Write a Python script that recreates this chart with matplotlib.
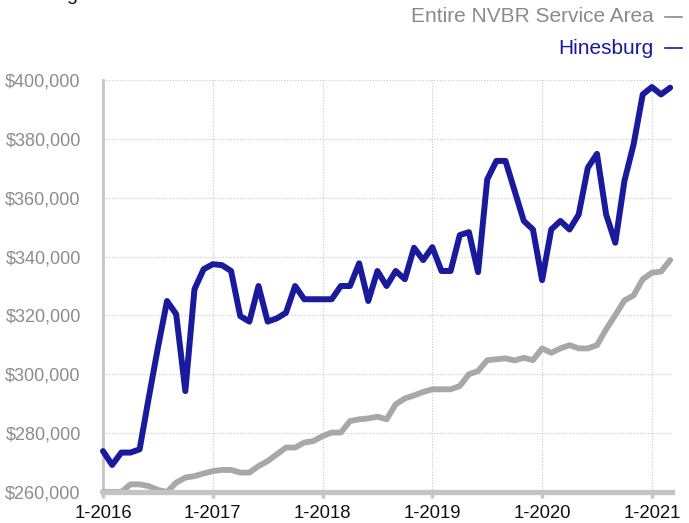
#!/usr/bin/env python3

import matplotlib
matplotlib.use('Agg')
import matplotlib.pyplot as plt
from matplotlib.ticker import FuncFormatter

plt.rcParams['font.family'] = ['Liberation Sans', 'DejaVu Sans']

# -- Monthly values, 1-2016 through 3-2021
months = list(range(63))

hinesburg = [
    273.9, 269.2, 273.4, 273.4, 274.5, 292.0, 309.0, 324.9, 320.4, 294.3,
    328.9, 335.7, 337.4, 337.1, 335.1, 319.8, 317.9, 330.0, 317.9, 319.0,
    320.9, 330.0, 325.5, 325.5, 325.5, 325.5, 330.0, 330.0, 337.7, 324.9,
    335.1, 330.0, 335.1, 332.3, 343.0, 338.8, 343.2, 335.1, 335.1, 347.3,
    348.3, 334.7, 366.2, 372.5, 372.5, 362.3, 352.1, 349.2, 332.0, 349.2,
    352.1, 349.2, 354.3, 370.2, 374.9, 354.3, 344.7, 365.7, 378.1, 395.1,
    397.6, 395.1, 397.4,
]

nvbr = [
    260.0, 260.0, 260.0, 262.6, 262.6, 262.0, 260.7, 260.0, 263.2, 264.9,
    265.4, 266.3, 267.1, 267.5, 267.5, 266.6, 266.6, 268.8, 270.5, 272.8,
    275.1, 275.1, 276.8, 277.3, 279.0, 280.2, 280.2, 284.1, 284.7, 285.0,
    285.6, 284.7, 289.8, 291.8, 292.8, 294.0, 294.9, 294.9, 294.9, 296.0,
    300.0, 301.1, 304.8, 305.1, 305.4, 304.7, 305.6, 304.8, 308.8, 307.3,
    308.8, 309.9, 308.8, 308.8, 309.9, 315.3, 320.1, 325.1, 326.8, 332.3,
    334.5, 334.9, 338.8,
]

year_ticks = [0, 12, 24, 36, 48, 60]
year_labels = ['1-2016', '1-2017', '1-2018', '1-2019', '1-2020', '1-2021']
y_ticks = [260, 280, 300, 320, 340, 360, 380, 400]

BLUE = '#1a1a9c'
GRAY = '#a8a8a8'
AXIS_GRAY = '#c4c4c4'

fig = plt.figure(figsize=(6.89, 5.23), dpi=100)
ax = fig.add_axes([103 / 689, 1 - 492 / 523, 569 / 689, 412 / 523])

ax.plot(months, nvbr, color=GRAY, linewidth=4.2, solid_joinstyle='round',
        solid_capstyle='round', zorder=3, clip_on=False)
ax.plot(months, hinesburg, color=BLUE, linewidth=4.3, solid_joinstyle='round',
        solid_capstyle='round', zorder=4, clip_on=False)

ax.set_xlim(0, 62.2)
ax.set_ylim(260, 400)

ax.set_xticks(year_ticks)
ax.set_xticklabels(year_labels, fontsize=13.3, color='#111111')
ax.set_yticks(y_ticks)
ax.yaxis.set_major_formatter(FuncFormatter(lambda v, p: '${:,.0f}'.format(v * 1000)))
ax.tick_params(axis='y', labelsize=13, labelcolor='#8c8c8c', length=0, pad=16)
ax.tick_params(axis='x', length=4.5, width=2.5, color=AXIS_GRAY, pad=5)

# -- Dotted grid
ax.grid(True, color='#c8c8c8', linestyle=(0, (1, 1.5)), linewidth=0.8)
ax.set_axisbelow(True)

for side in ['top', 'right']:
    ax.spines[side].set_visible(False)
ax.spines['left'].set_color(AXIS_GRAY)
ax.spines['left'].set_linewidth(2)
ax.spines['bottom'].set_color(AXIS_GRAY)
ax.spines['bottom'].set_linewidth(3.8)
ax.spines['bottom'].set_zorder(5)
# right edge dotted line
ax.axvline(62.2, color='#c8c8c8', linestyle=(0, (1, 1.5)), linewidth=0.8, zorder=0)

# -- Legend as right-aligned text with a dash
fig.text(654 / 689, 1 - 17 / 523, 'Entire NVBR Service Area', ha='right', va='center',
         fontsize=15, color='#8a8a8a')
fig.text(654 / 689, 1 - 48 / 523, 'Hinesburg', ha='right', va='center',
         fontsize=15, color=BLUE)
fig.add_artist(plt.Line2D([665 / 689, 682 / 689], [1 - 17 / 523, 1 - 17 / 523],
                          color='#8a8a8a', linewidth=1.2))
fig.add_artist(plt.Line2D([665 / 689, 682 / 689], [1 - 48 / 523, 1 - 48 / 523],
                          color=BLUE, linewidth=1.2))

# -- Title mostly cut off above the figure
fig.text(18 / 689, 1.0, 'Rolling', ha='left', va='baseline', fontsize=14, color='#111111')

fig.savefig('out.png', dpi=100)
